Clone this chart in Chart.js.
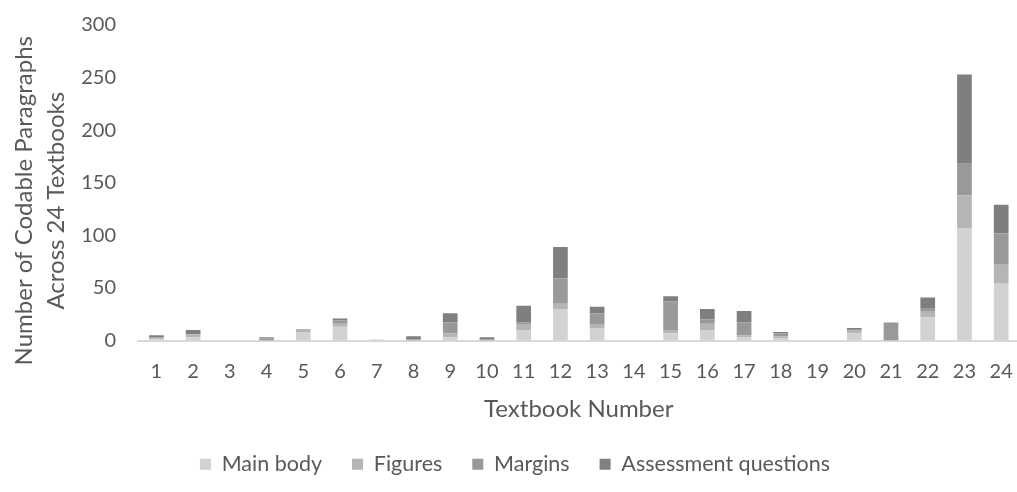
<!DOCTYPE html>
<html>
<head>
<meta charset="utf-8">
<script src="https://cdn.jsdelivr.net/npm/chart.js@4/dist/chart.umd.min.js"></script>
<style>
  html, body { margin: 0; padding: 0; background: #ffffff; overflow: hidden; }
  #wrap { position: relative; width: 1032px; height: 492px; }
</style>
</head>
<body>
<div id="wrap"><canvas id="chart"></canvas></div>
<script>
// Textbooks 1..24
const textbooks = ['1','2','3','4','5','6','7','8','9','10','11','12','13','14','15','16','17','18','19','20','21','22','23','24'];

// Codable paragraphs per textbook, by location in the book
const mainBody    = [1, 3, 0, 0, 8, 13, 1, 0, 3, 0, 10, 30, 12, 0, 7, 10, 3, 2, 0, 7, 0, 22, 107, 54];
const figures     = [1, 3, 0, 0, 3, 3, 0, 0, 4, 0, 5, 5, 3, 0, 3, 6, 2, 2, 0, 3, 0, 6, 31, 18];
const margins     = [1, 0, 0, 2, 0, 3, 0, 1, 10, 1, 2, 24, 11, 0, 27, 4, 12, 3, 0, 1, 17, 3, 30, 30];
const assessment  = [2, 4, 0, 1, 0, 2, 0, 3, 9, 2, 16, 30, 6, 0, 5, 10, 11, 1, 0, 1, 0, 10, 85, 27];

const yTicks = [0, 50, 100, 150, 200, 250, 300];
const yTitleLines = ['Number of Codable Paragraphs', 'Across 24 Textbooks'];

const textColor = '#595959';
const fontFamily = 'Lato, "Open Sans", sans-serif';

function series(label, data, color) {
  return {
    label: label,
    data: data,
    backgroundColor: color,
    borderWidth: 0,
    barPercentage: 0.4,
    categoryPercentage: 1.0
  };
}

// Two-line vertical axis title, set a little below the middle of the plot
const yAxisTitle = {
  id: 'yAxisTitle',
  afterDraw(chart) {
    const ctx = chart.ctx;
    const area = chart.chartArea;
    const cy = (area.top + area.bottom) / 2 + 18;
    ctx.save();
    ctx.fillStyle = textColor;
    ctx.font = '24px ' + fontFamily;
    ctx.textAlign = 'center';
    ctx.textBaseline = 'middle';
    yTitleLines.forEach(function (line, i) {
      ctx.save();
      ctx.translate(24 + i * 32, cy);
      ctx.rotate(-Math.PI / 2);
      ctx.fillText(line, 0, 0);
      ctx.restore();
    });
    ctx.restore();
  }
};

new Chart(document.getElementById('chart'), {
  type: 'bar',
  data: {
    labels: textbooks,
    datasets: [
      series('Main body', mainBody, '#d2d2d2'),
      series('Figures', figures, '#b5b5b5'),
      series('Margins', margins, '#999999'),
      series('Assessment questions', assessment, '#7f7f7f')
    ]
  },
  plugins: [yAxisTitle],
  options: {
    responsive: true,
    maintainAspectRatio: false,
    animation: false,
    layout: { padding: { left: 8, top: 25, right: 10, bottom: 7 } },
    plugins: {
      legend: {
        position: 'bottom',
        labels: {
          boxWidth: 11,
          boxHeight: 11,
          padding: 30,
          color: textColor,
          font: { family: fontFamily, size: 21.5 }
        }
      },
      tooltip: { enabled: false }
    },
    scales: {
      x: {
        stacked: true,
        grid: { display: false, drawTicks: false },
        border: { display: true, color: '#d9d9d9', width: 2 },
        ticks: {
          color: textColor,
          padding: 19,
          maxRotation: 0,
          autoSkip: false,
          font: { family: fontFamily, size: 20 }
        },
        title: {
          display: true,
          text: 'Textbook Number',
          color: textColor,
          padding: { top: 0, bottom: 0 },
          font: { family: fontFamily, size: 24 }
        },
        afterFit: function (scale) { scale.height = 83; }
      },
      y: {
        stacked: true,
        min: 0,
        max: 300,
        afterBuildTicks: function (scale) {
          scale.ticks = yTicks.map(function (v) { return { value: v }; });
        },
        grid: { display: false, drawTicks: false },
        border: { display: false },
        ticks: {
          color: textColor,
          padding: 22,
          font: { family: fontFamily, size: 20 }
        },
        title: { display: false },
        afterFit: function (scale) {
          scale.width = 130;
          // keep the label gap from pushing the plot top down
          scale.paddingTop = 12;
          scale.paddingBottom = 12;
        }
      }
    }
  }
});
</script>
</body>
</html>
